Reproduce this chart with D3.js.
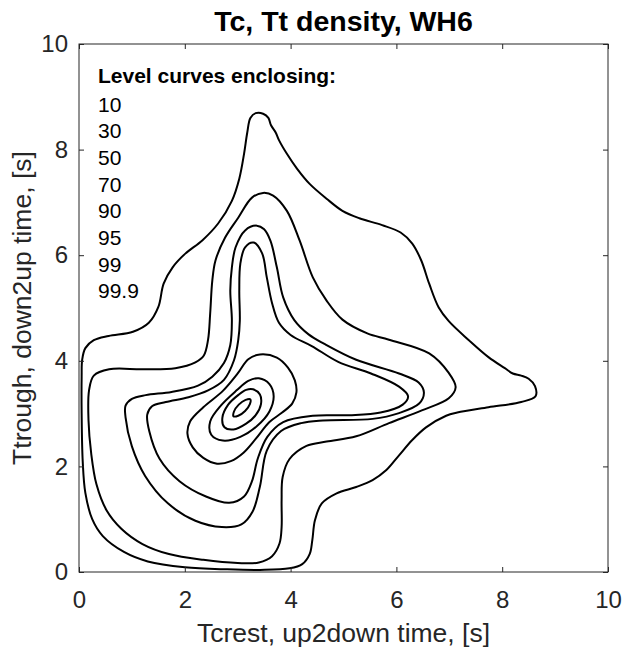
<!DOCTYPE html>
<html>
<head>
<meta charset="utf-8">
<script src="https://cdn.jsdelivr.net/npm/d3@7"></script>
<style>
  body { margin: 0; background: #fff; }
  svg { font-family: "Liberation Sans", Arial, Helvetica, sans-serif; }
</style>
</head>
<body>
<div id="chart"></div>
<script>
// level labels shown in the text list (innermost first)
const levelLabels = ["10", "30", "50", "70", "90", "95", "99", "99.9"];
const xTicks = [0, 2, 4, 6, 8, 10];
const yTicks = [0, 2, 4, 6, 8, 10];

// contour points [Tc, Tt]
const lvl10 = [[3.24,3.27],[3.15,3.26],[3.02,3.17],[2.93,3.04],[2.92,2.95],[3.01,2.96],[3.14,3.05],[3.23,3.18]];
const lvl30 = [[3.29,3.46],[3.42,3.36],[3.44,3.18],[3.34,2.97],[3.16,2.81],[2.92,2.70],[2.75,2.74],[2.71,2.92],[2.82,3.17],[3.02,3.36],[3.16,3.45]];
const lvl50 = [[3.40,3.67],[3.60,3.56],[3.68,3.33],[3.60,3.04],[3.36,2.76],[3.05,2.56],[2.72,2.49],[2.50,2.60],[2.48,2.85],[2.68,3.15],[2.98,3.44],[3.20,3.62]];
const lvl70 = [[3.42,4.12],[3.74,4.06],[3.95,3.87],[4.08,3.63],[4.11,3.40],[4.03,3.19],[3.84,3.02],[3.60,2.84],[3.34,2.52],[3.11,2.26],[2.87,2.10],[2.61,2.05],[2.35,2.16],[2.15,2.36],[2.05,2.62],[2.10,2.85],[2.35,3.12],[2.72,3.43],[3.00,3.76],[3.20,4.03]];
const lvl90 = [[3.30,6.24],[3.46,6.04],[3.55,5.58],[3.65,5.09],[3.78,4.72],[4.00,4.49],[4.40,4.28],[4.90,3.98],[5.52,3.76],[6.05,3.51],[6.22,3.33],[6.12,3.17],[5.70,3.02],[5.11,2.97],[4.42,2.96],[3.86,2.84],[3.56,2.56],[3.38,2.15],[3.27,1.72],[3.12,1.43],[2.84,1.31],[2.40,1.43],[1.90,1.72],[1.52,2.15],[1.33,2.66],[1.29,2.98],[1.38,3.14],[1.64,3.22],[2.07,3.31],[2.44,3.44],[2.74,3.64],[2.93,4.01],[3.01,4.39],[3.04,4.76],[3.03,5.33],[3.05,5.84],[3.14,6.15]];
const lvl95 = [[3.36,6.56],[3.50,6.49],[3.62,6.27],[3.74,5.77],[3.86,5.20],[4.07,4.77],[4.34,4.50],[4.64,4.32],[5.24,4.02],[6.05,3.76],[6.42,3.59],[6.52,3.40],[6.43,3.19],[6.05,3.01],[5.55,2.90],[4.61,2.87],[4.20,2.82],[3.82,2.67],[3.55,2.30],[3.42,1.62],[3.28,1.14],[3.07,0.90],[2.70,0.85],[2.20,0.97],[1.68,1.30],[1.25,1.82],[1.00,2.38],[0.88,2.93],[0.88,3.15],[1.00,3.28],[1.26,3.35],[1.75,3.41],[2.25,3.53],[2.52,3.70],[2.74,3.96],[2.86,4.30],[2.89,4.76],[2.86,5.33],[2.89,5.77],[2.96,6.15],[3.14,6.47]];
const lvl99 = [[3.48,7.18],[3.67,7.13],[3.93,6.84],[4.17,6.28],[4.42,5.58],[4.68,5.14],[4.98,4.78],[5.45,4.52],[5.86,4.40],[6.62,4.14],[6.99,3.77],[7.12,3.50],[6.99,3.29],[6.48,3.06],[5.86,2.82],[5.24,2.57],[4.68,2.47],[4.30,2.39],[3.98,2.14],[3.85,1.80],[3.83,1.36],[3.83,0.85],[3.79,0.54],[3.65,0.30],[3.40,0.18],[3.00,0.17],[2.35,0.23],[1.70,0.34],[1.20,0.53],[0.80,0.82],[0.52,1.17],[0.33,1.66],[0.23,2.25],[0.18,2.87],[0.19,3.44],[0.28,3.72],[0.57,3.84],[1.20,3.84],[1.82,3.86],[2.20,3.97],[2.36,4.10],[2.44,4.40],[2.48,4.90],[2.52,5.52],[2.58,5.90],[2.76,6.33],[3.01,6.71],[3.27,7.09]];
const lvl999 = [[0.06,4.02],[0.12,4.24],[0.28,4.39],[0.56,4.47],[1.02,4.55],[1.32,4.72],[1.50,5.02],[1.60,5.46],[1.77,5.77],[2.01,6.03],[2.33,6.28],[2.63,6.60],[2.89,7.03],[3.03,7.45],[3.12,7.92],[3.18,8.32],[3.24,8.60],[3.34,8.69],[3.48,8.68],[3.58,8.60],[3.63,8.46],[3.72,8.32],[3.78,8.18],[3.93,7.92],[4.12,7.64],[4.36,7.35],[4.68,7.07],[4.98,6.84],[5.30,6.70],[5.73,6.57],[6.08,6.43],[6.30,6.22],[6.47,5.90],[6.62,5.46],[6.80,5.01],[6.99,4.75],[7.37,4.39],[7.74,4.07],[8.05,3.86],[8.20,3.76],[8.36,3.72],[8.50,3.66],[8.62,3.52],[8.63,3.33],[8.36,3.22],[7.74,3.12],[7.15,3.02],[6.94,2.96],[6.56,2.74],[6.30,2.50],[6.05,2.21],[5.81,1.93],[5.55,1.74],[5.24,1.61],[4.87,1.49],[4.59,1.30],[4.46,0.98],[4.41,0.60],[4.36,0.34],[4.22,0.15],[3.98,0.07],[3.42,0.04],[2.80,0.05],[2.00,0.09],[1.30,0.20],[0.85,0.38],[0.45,0.68],[0.25,1.00],[0.12,1.50],[0.07,2.10],[0.05,3.00],[0.05,3.70]];

const contours = [lvl10, lvl30, lvl50, lvl70, lvl90, lvl95, lvl99, lvl999];

const w = 632, h = 648;
const plotLeft = 79, plotRight = 608, plotTop = 44, plotBottom = 572;
const axisColor = "#262626";

const svg = d3.select("#chart").append("svg").attr("width", w).attr("height", h);

const x = d3.scaleLinear().domain([0, 10]).range([plotLeft, plotRight]);
const y = d3.scaleLinear().domain([0, 10]).range([plotBottom, plotTop]);

svg.append("clipPath").attr("id", "plotclip")
    .append("rect")
    .attr("x", plotLeft).attr("y", plotTop)
    .attr("width", plotRight - plotLeft).attr("height", plotBottom - plotTop);

// contour lines
const line = d3.line()
    .x(d => x(d[0]))
    .y(d => y(d[1]))
    .curve(d3.curveCatmullRomClosed.alpha(0.5));

svg.append("g")
    .attr("clip-path", "url(#plotclip)")
    .selectAll("path")
    .data(contours)
    .enter()
    .append("path")
    .attr("d", line)
    .attr("fill", "none")
    .attr("stroke", "#000")
    .attr("stroke-width", 2)
    .attr("stroke-linejoin", "round");

// axes, ticks pointing inwards on all four sides
const styleAxis = g => {
    g.select(".domain").remove();
    g.selectAll(".tick line").attr("stroke", axisColor).attr("stroke-width", 1);
    g.selectAll(".tick text").attr("fill", axisColor).style("font-size", "24px");
};

svg.append("g")
    .attr("transform", "translate(0," + plotBottom + ")")
    .call(d3.axisBottom(x).tickValues(xTicks).tickSizeInner(-5).tickSizeOuter(0).tickPadding(19))
    .call(styleAxis);
svg.append("g")
    .attr("transform", "translate(0," + plotTop + ")")
    .call(d3.axisTop(x).tickValues(xTicks).tickSizeInner(-5).tickSizeOuter(0).tickFormat(""))
    .call(styleAxis);
svg.append("g")
    .attr("transform", "translate(" + plotLeft + ",0)")
    .call(d3.axisLeft(y).tickValues(yTicks).tickSizeInner(-5).tickSizeOuter(0).tickPadding(11))
    .call(styleAxis);
svg.append("g")
    .attr("transform", "translate(" + plotRight + ",0)")
    .call(d3.axisRight(y).tickValues(yTicks).tickSizeInner(-5).tickSizeOuter(0).tickFormat(""))
    .call(styleAxis);

svg.append("rect")
    .attr("x", plotLeft).attr("y", plotTop)
    .attr("width", plotRight - plotLeft).attr("height", plotBottom - plotTop)
    .attr("fill", "none")
    .attr("stroke", axisColor)
    .attr("stroke-width", 1);

// title and labels
svg.append("text")
    .attr("x", (plotLeft + plotRight) / 2).attr("y", 31)
    .attr("text-anchor", "middle")
    .style("font-size", "28.5px").style("font-weight", "bold")
    .attr("fill", "#000")
    .text("Tc, Tt density, WH6");

svg.append("text")
    .attr("x", (plotLeft + plotRight) / 2).attr("y", 642)
    .attr("text-anchor", "middle")
    .style("font-size", "26.5px")
    .attr("fill", axisColor)
    .text("Tcrest, up2down time, [s]");

svg.append("text")
    .attr("transform", "translate(31," + ((plotTop + plotBottom) / 2) + ") rotate(-90)")
    .attr("text-anchor", "middle")
    .style("font-size", "26.5px")
    .attr("fill", axisColor)
    .text("Ttrough, down2up time, [s]");

// level list
svg.append("text")
    .attr("x", 98).attr("y", 83)
    .style("font-size", "21px").style("font-weight", "bold")
    .attr("fill", "#000")
    .text("Level curves enclosing:");

svg.selectAll("text.level")
    .data(levelLabels)
    .enter()
    .append("text")
    .attr("class", "level")
    .attr("x", 98)
    .attr("y", (d, i) => 111.5 + i * 26.7)
    .style("font-size", "21px")
    .attr("fill", "#000")
    .text(d => d);
</script>
</body>
</html>
